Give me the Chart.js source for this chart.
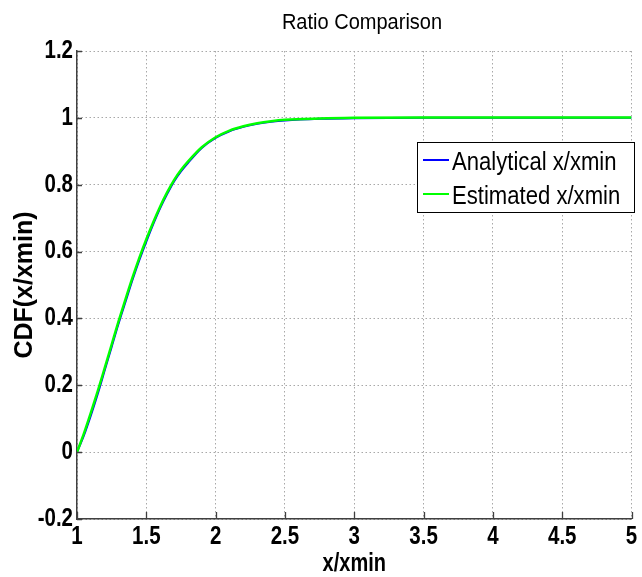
<!DOCTYPE html>
<html>
<head>
<meta charset="utf-8">
<script src="https://cdn.jsdelivr.net/npm/chart.js@4.4.1/dist/chart.umd.min.js"></script>
<style>
  html, body { margin: 0; padding: 0; background: #ffffff; }
  #wrap { width: 642px; height: 577px; }
</style>
</head>
<body>
<div id="wrap"><canvas id="c" width="642" height="577"></canvas></div>
<script>
const chartTitle = 'Ratio Comparison';
const xAxisTitle = 'x/xmin';
const yAxisTitle = 'CDF(x/xmin)';
const seriesNames = ['Analytical x/xmin', 'Estimated x/xmin'];
const xValues = [1, 1.05, 1.1, 1.15, 1.2, 1.25, 1.3, 1.35, 1.4, 1.45, 1.5, 1.55, 1.6, 1.65, 1.7, 1.75, 1.8, 1.9, 2.0, 2.1, 2.2, 2.3, 2.4, 2.5, 2.75, 3, 3.5, 4, 4.5, 5];
const analytical = [0, 0.05, 0.11, 0.175, 0.245, 0.315, 0.385, 0.45, 0.515, 0.575, 0.63, 0.682, 0.73, 0.772, 0.81, 0.84, 0.865, 0.91, 0.94, 0.96, 0.973, 0.982, 0.988, 0.992, 0.997, 0.999, 1, 1, 1, 1];
const estimated = [0, 0.056, 0.118, 0.183, 0.252, 0.322, 0.392, 0.458, 0.522, 0.582, 0.637, 0.688, 0.735, 0.777, 0.814, 0.844, 0.869, 0.912, 0.942, 0.962, 0.975, 0.984, 0.99, 0.994, 0.998, 1.0, 1.001, 1.001, 1.001, 1.001];
const xTicks = [1, 1.5, 2, 2.5, 3, 3.5, 4, 4.5, 5];
const yTicks = [-0.2, 0, 0.2, 0.4, 0.6, 0.8, 1, 1.2];

// Family tags "Nxx" (not installed) fall back to Liberation Sans; the tag sets horizontal compression.
const fam = f => "N" + f + ", 'Liberation Sans', Arial, sans-serif";
const REG = "'Liberation Sans', Arial, sans-serif";

const canvas = document.getElementById('c');
const ctx0 = canvas.getContext('2d');
const origFill = ctx0.fillText;
ctx0.fillText = function (t, x, y, mw) {
  const m = /N(\d\d)\b/.exec(this.font);
  if (m) {
    const f = Number(m[1]) / 100;
    this.save();
    this.translate(x, y);
    this.scale(f, 1);
    origFill.call(this, t, 0, 0);
    this.restore();
  } else if (mw === undefined) {
    origFill.call(this, t, x, y);
  } else {
    origFill.call(this, t, x, y, mw);
  }
};

function pts(xs, ys) { return xs.map((x, i) => ({ x: x, y: ys[i] })); }

const decorPlugin = {
  id: 'decor',
  afterDraw(chart) {
    const ctx = chart.ctx;
    const xs = chart.scales.x, ys = chart.scales.y;
    const area = chart.chartArea;
    ctx.save();
    // inward tick marks
    ctx.strokeStyle = '#404040';
    ctx.lineWidth = 1.3;
    ctx.beginPath();
    xTicks.forEach(v => {
      const px = Math.round(xs.getPixelForValue(v)) + 0.5;
      ctx.moveTo(px, area.bottom);
      ctx.lineTo(px, area.bottom - 7);
    });
    yTicks.forEach(v => {
      const py = Math.round(ys.getPixelForValue(v)) + 0.5;
      ctx.moveTo(area.left, py);
      ctx.lineTo(area.left + 5, py);
    });
    ctx.stroke();

    // title
    ctx.fillStyle = '#000';
    ctx.font = "22px " + fam(91);
    ctx.textAlign = 'center';
    ctx.textBaseline = 'alphabetic';
    ctx.fillText(chartTitle, 362, 29);

    // legend
    const bx = 417, by = 142, bw = 217, bh = 70;
    ctx.fillStyle = '#fff';
    ctx.fillRect(bx, by, bw, bh);
    ctx.strokeStyle = '#000';
    ctx.lineWidth = 1;
    ctx.strokeRect(bx + 0.5, by + 0.5, bw, bh);
    const rows = [160, 194];
    chart.data.datasets.forEach((ds, i) => {
      ctx.strokeStyle = ds.borderColor;
      ctx.lineWidth = 2;
      ctx.beginPath();
      ctx.moveTo(423, rows[i]);
      ctx.lineTo(449, rows[i]);
      ctx.stroke();
      ctx.fillStyle = '#000';
      ctx.font = "26px " + fam(85);
      ctx.textAlign = 'left';
      ctx.textBaseline = 'alphabetic';
      ctx.fillText(ds.label, 452, rows[i] + 9.5);
    });
    ctx.restore();
  }
};

const fmt = v => String(Number(v.toFixed(2)));

new Chart(canvas, {
  type: 'line',
  data: {
    datasets: [
      { label: seriesNames[0], data: pts(xValues, analytical), borderColor: '#0000ff', borderWidth: 2, pointRadius: 0, cubicInterpolationMode: 'monotone', fill: false, order: 1 },
      { label: seriesNames[1], data: pts(xValues, estimated), borderColor: '#00ff00', borderWidth: 2.5, pointRadius: 0, cubicInterpolationMode: 'monotone', fill: false, order: 0 }
    ]
  },
  options: {
    responsive: false,
    animation: false,
    events: [],
    layout: { padding: { top: 51, right: 6, bottom: 0, left: 0 } },
    plugins: { legend: { display: false }, title: { display: false }, tooltip: { enabled: false } },
    scales: {
      x: {
        type: 'linear', min: 1, max: 5,
        afterBuildTicks: s => { s.ticks = xTicks.map(v => ({ value: v })); },
        afterFit: s => { s.height = 58; },
        ticks: { callback: v => fmt(v), color: '#000', padding: 3.5, maxRotation: 0, autoSkip: false, font: { family: fam(82), size: 25, weight: 'bold' } },
        grid: { color: '#a8a8a8', lineWidth: 1, drawTicks: false },
        border: { display: true, color: '#404040', width: 1.5, dash: [1.5, 2.5] },
        title: { display: true, text: xAxisTitle, color: '#000', padding: 0, font: { family: fam(80), size: 25, weight: 'bold', lineHeight: 1 } }
      },
      y: {
        type: 'linear', min: -0.2, max: 1.2,
        afterBuildTicks: s => { s.ticks = yTicks.map(v => ({ value: v })); },
        afterFit: s => { s.width = 77; },
        ticks: { callback: v => fmt(v), color: '#000', padding: 4, autoSkip: false, font: { family: fam(82), size: 25, weight: 'bold' } },
        grid: { color: '#a8a8a8', lineWidth: 1, drawTicks: false },
        border: { display: true, color: '#404040', width: 1.5, dash: [1.5, 2.5] },
        title: { display: true, text: yAxisTitle, color: '#000', padding: { top: 13, bottom: 0 }, font: { family: REG, size: 25, weight: 'bold', lineHeight: 1 } }
      }
    }
  },
  plugins: [decorPlugin]
});
</script>
</body>
</html>
